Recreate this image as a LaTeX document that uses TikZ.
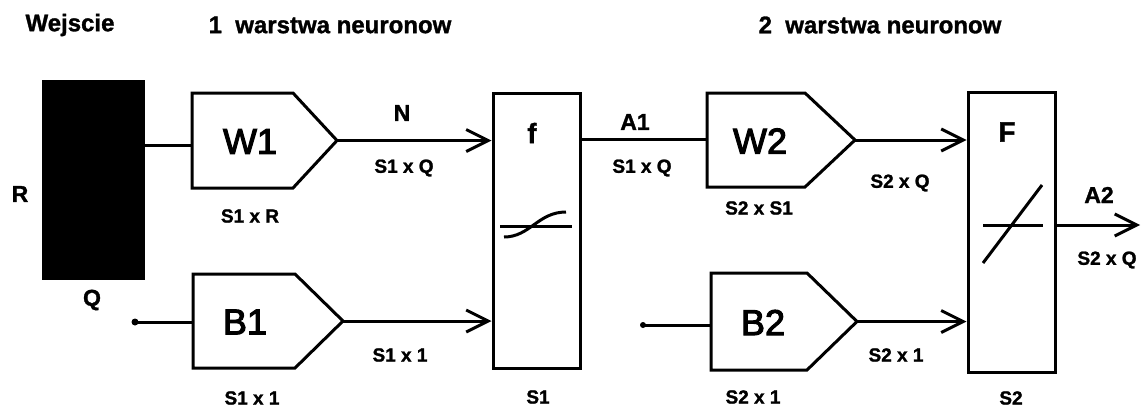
\documentclass[tikz,border=0pt]{standalone}
\usepackage{fontspec}
\setmainfont{Liberation Sans}[BoldFeatures={FakeBold=1.3}]
\newfontfamily\medfont{Liberation Sans}[FakeBold=3]
\usetikzlibrary{arrows.meta}
\newcommand\pentabox[8]{%
  \draw[line join=miter] (#2,#3) -- (#5,#3) -- (#6,{(#3+#4)/2}) -- (#5,#4) -- (#2,#4) -- cycle;
  \node[big] (#1) at (#7,{(#3+#4)/2+1}) {#8};
  \coordinate (#1-tip) at (#6,{(#3+#4)/2});
}
\begin{document}
\begin{tikzpicture}[x=1pt,y=-1pt,line width=3pt,
  lbl/.style={font=\fontsize{19}{19}\selectfont\bfseries, inner sep=0pt},
  big/.style={font=\fontsize{36}{36}\selectfont\medfont, inner sep=0pt},
  mid/.style={font=\fontsize{23}{23}\selectfont\bfseries, inner sep=0pt},
  fn/.style={font=\fontsize{28}{28}\selectfont\bfseries, inner sep=0pt},
  head/.style={font=\fontsize{24}{24}\selectfont\bfseries, inner sep=0pt},
  arr/.style={-{Straight Barb[length=22pt,width=22pt,line width=3pt]}},
  tfbox/.style={draw, minimum width=87pt, inner sep=0pt},
]
\useasboundingbox (0,0) rectangle (1142,408);

% headers
\node[head] (hIn) at (70,25) {Wejscie};
\node[head] (h1) at (330,25) {1~~warstwa neuronow};
\node[head] (h2) at (880,25) {2~~warstwa neuronow};

% input
\node[fill=black, draw=black, line width=1pt, minimum width=102pt, minimum height=199pt, inner sep=0pt] (inp) at (93.5,180) {};
\node[mid] (lR) at (20,194) {R};
\node[mid] (lQ) at (92,300) {Q};

% pentagon boxes
\pentabox{W1}{192}{93}{188}{293}{337}{250}{W1}
\pentabox{B1}{193}{274}{368}{295}{343}{245}{B1}
\pentabox{W2}{707}{93}{187}{805}{855}{760}{W2}
\pentabox{B2}{711}{273}{370}{807}{857}{763}{B2}

% transfer boxes
\node[tfbox, minimum height=275pt] (f1) at (536.5,230.5) {};
\node[tfbox, minimum height=280pt] (F2) at (1011.5,232) {};
\node[fn] (lf) at (532,133) {f};
\node[fn] (lF) at (1007,132) {F};
\draw (500,226) -- (572,226);
\draw (504,237) .. controls (530,237) and (538,212) .. (566,212);
\draw (983,225) -- (1043,225);
\draw (983,263) -- (1042,185);

% inputs and dots
\coordinate (W1-in) at (192,145);
\draw (inp.east |- W1-in) -- (W1-in);
\node[circle, fill=black, inner sep=0pt, minimum size=7pt] (d1) at (135,322) {};
\coordinate (B1-in) at (193,322);
\draw (d1.center) -- (B1-in);
\node[circle, fill=black, inner sep=0pt, minimum size=6pt] (d2) at (643,325) {};
\coordinate (B2-in) at (711,325);
\draw (d2.center) -- (B2-in);

% connectors
\draw[arr] (W1-tip) -- (W1-tip -| f1.west);
\draw[arr] (B1-tip) -- (B1-tip -| f1.west);
\coordinate (W2-in) at (707,139);
\draw (W2-in -| f1.east) -- (W2-in);
\draw[arr] (W2-tip) -- (W2-tip -| F2.west);
\draw[arr] (B2-tip) -- (B2-tip -| F2.west);
\coordinate (out) at (1140,225);
\draw[arr] (F2.east |- out) -- (out);

% labels
\node[mid] (lN) at (402,113) {N};
\node[lbl] (lNd) at (404,168) {S1 x Q};
\node[lbl] (lW1d) at (250,216) {S1 x R};
\node[lbl] (lB1a) at (400,355) {S1 x 1};
\node[lbl] (lB1d) at (252,398) {S1 x 1};
\node[lbl] (lS1) at (538,397) {S1};
\node[mid] (lA1) at (635,122) {A1};
\node[lbl] (lA1d) at (642,168) {S1 x Q};
\node[lbl] (lW2d) at (759,208) {S2 x S1};
\node[lbl] (lW2a) at (900,183) {S2 x Q};
\node[lbl] (lB2a) at (896,355) {S2 x 1};
\node[lbl] (lB2d) at (753,397) {S2 x 1};
\node[mid] (lA2) at (1099,195) {A2};
\node[lbl] (lA2d) at (1107,260) {S2 x Q};
\node[lbl] (lS2) at (1011,398) {S2};
\end{tikzpicture}
\end{document}
